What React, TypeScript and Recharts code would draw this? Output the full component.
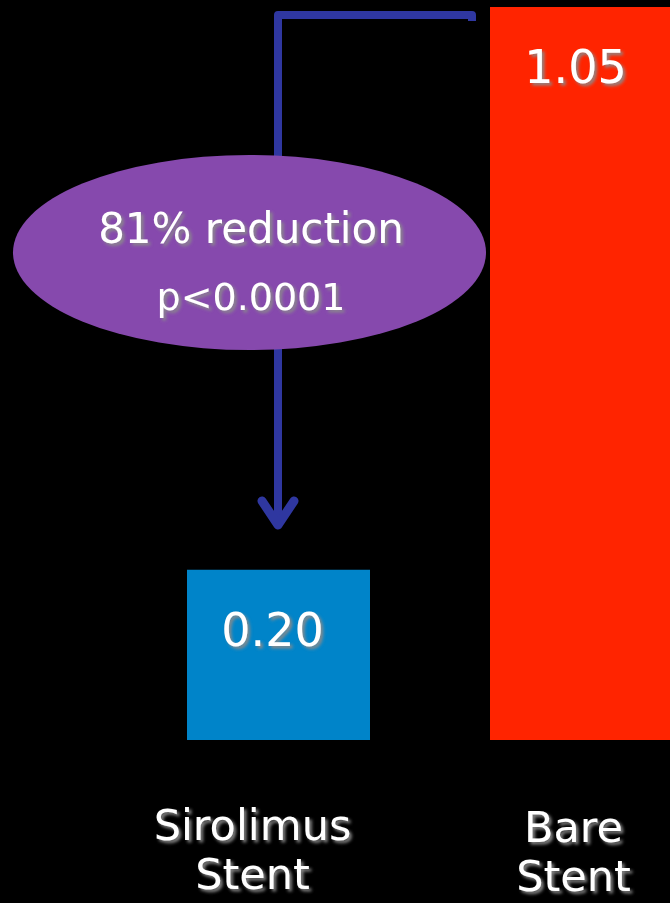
import React from 'react';
import { BarChart, Bar, XAxis, YAxis, Cell, LabelList } from 'recharts';

const CATEGORIES = ['Sirolimus Stent', 'Bare Stent'];
const VALUES = [0.2, 1.05];
const VALUE_LABELS = ['0.20', '1.05'];
const BAR_COLORS = ['#0084C9', '#FF2400'];
const Y_DOMAIN: [number, number] = [-0.057, 1.05];
const ANNOTATION_LINES = ['81% reduction', 'p<0.0001'];

const data = CATEGORIES.map((name, i) => ({ name, value: VALUES[i], label: VALUE_LABELS[i] }));

const FONT = '"Comic Sans MS", "DejaVu Sans", sans-serif';

const TICK_DX = [-26, -8];
const TICK_DY = [0, 2];

const Tick = (props: any) => {
  const { x, y, payload, index } = props;
  const words = String(payload.value).split(' ');
  return (
    <g filter="url(#txtShadow)">
      {words.map((w, k) => (
        <text
          key={k}
          x={x + TICK_DX[index]}
          y={y + 92 + TICK_DY[index] + k * 49}
          textAnchor="middle"
          fill="#FFFFFF"
          fontSize={43}
          fontFamily={FONT}
        >
          {w}
        </text>
      ))}
    </g>
  );
};

const ValueLabel = (props: any) => {
  const { x, y, width, index } = props;
  return (
    <text
      x={x + width / 2 - 6}
      y={y + 76}
      textAnchor="middle"
      fill="#FFFFFF"
      fontSize={46}
      fontFamily={FONT}
      filter="url(#txtShadow)"
    >
      {VALUE_LABELS[index]}
    </text>
  );
};

export default function App() {
  return (
    <div style={{ position: 'absolute', left: 0, top: 0, width: 670, height: 903, background: '#000', overflow: 'hidden' }}>
      <svg width={0} height={0} style={{ position: 'absolute' }}>
        <defs>
          <filter id="txtShadow" x="-20%" y="-20%" width="140%" height="160%">
            <feDropShadow dx={2.5} dy={2.5} stdDeviation={1.5} floodColor="#8a8a8a" floodOpacity={0.95} />
          </filter>
        </defs>
      </svg>
      <BarChart
        width={740}
        height={903}
        data={data}
        margin={{ top: 7, right: 7, left: 127, bottom: 0 }}
        style={{ position: 'absolute', left: 0, top: 0 }}
      >
        <YAxis hide type="number" domain={Y_DOMAIN} allowDataOverflow />
        <XAxis
          dataKey="name"
          height={163}
          axisLine={false}
          tickLine={false}
          interval={0}
          tick={<Tick />}
        />
        <Bar
          dataKey={(d: any) => [Y_DOMAIN[0], d.value]}
          barSize={183}
          isAnimationActive={false}
        >
          {data.map((d, i) => (
            <Cell key={d.name} fill={BAR_COLORS[i]} />
          ))}
          <LabelList dataKey="label" content={<ValueLabel />} />
        </Bar>
      </BarChart>
      <svg width={670} height={903} style={{ position: 'absolute', left: 0, top: 0, pointerEvents: 'none' }}>
        <path d="M472,21 L472,15 L278,15 L278,522" fill="none" stroke="#2F37A0" strokeWidth={8} strokeLinejoin="round" />
        <polyline points="262,501 278,525 294,501" fill="none" stroke="#2F37A0" strokeWidth={9} strokeLinecap="round" strokeLinejoin="round" />
        <ellipse cx={249.5} cy={252.5} rx={236.5} ry={97.5} fill="#8649AD" />
        <g filter="url(#txtShadow)" fontFamily={FONT} fill="#FFFFFF" textAnchor="middle">
          <text x={251} y={243} fontSize={42}>{ANNOTATION_LINES[0]}</text>
          <text x={251} y={310} fontSize={38}>{ANNOTATION_LINES[1]}</text>
        </g>
      </svg>
    </div>
  );
}
